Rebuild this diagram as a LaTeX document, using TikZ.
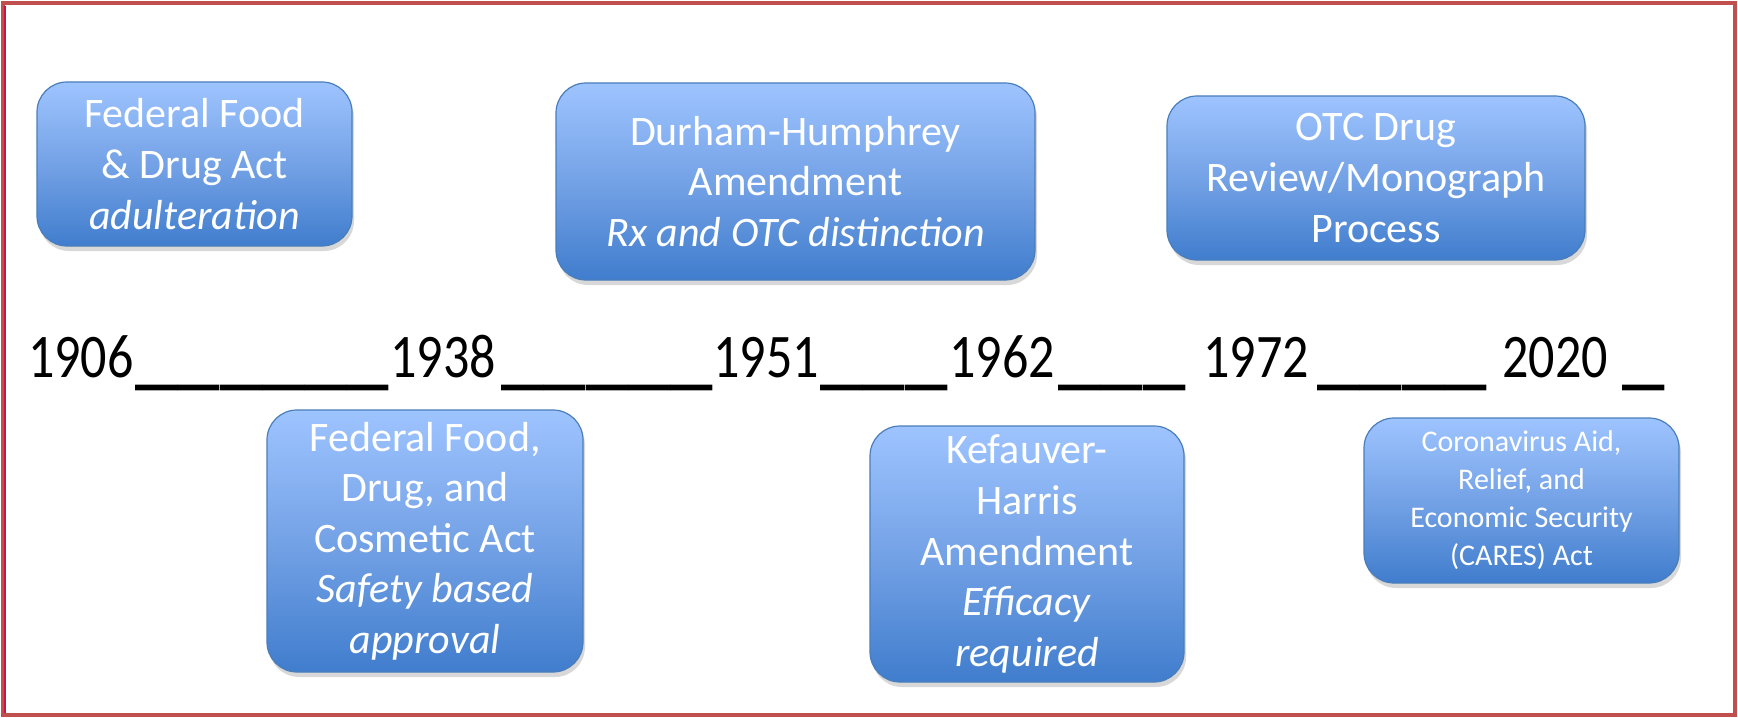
\documentclass[tikz,border=0pt]{standalone}
\usepackage{fontspec}
\setmainfont{Carlito}
\usetikzlibrary{shadows}
\definecolor{frame}{RGB}{192,80,77}
\definecolor{frameinner}{RGB}{200,20,70}
\definecolor{boxtop}{RGB}{158,196,255}
\definecolor{boxmid}{RGB}{116,162,230}
\definecolor{boxbot}{RGB}{64,125,205}
\definecolor{boxline}{RGB}{74,126,187}
\tikzset{
  eventbox/.style={draw=boxline, line width=0.6pt, rounded corners=15pt,
    top color=boxtop, bottom color=boxbot, middle color=boxmid,
    text=white, align=center, inner sep=2pt,
    drop shadow={opacity=0.3, shadow xshift=1pt, shadow yshift=-2.5pt},
    font=\fontsize{21}{25.3}\selectfont},
  smallbox/.style={eventbox, font=\fontsize{15}{19}\selectfont},
  yearlbl/.style={anchor=base west, inner sep=0pt, font=\fontsize{31}{37}\selectfont},
  dashrun/.style={anchor=base west, inner sep=0pt, font=\fontsize{31}{37}\selectfont}
}
\newcommand{\yr}[1]{\scalebox{0.84}[1]{#1}}
\newcommand{\us}[1]{\scalebox{1.37}[1.6]{#1}}
\begin{document}
\begin{tikzpicture}[x=0.5pt,y=-0.5pt]
\useasboundingbox (0,0) rectangle (1738,717);
\fill[white] (0,0) rectangle (1738,717);
\draw[frame, line width=2pt] (2.5,3.5) rectangle (1735,715);
\draw[frameinner, line width=0.6pt] (5,6) -- (5,713);

% event boxes
\node[eventbox, minimum width=157.5pt, minimum height=82pt] (ffda) at (194.5,164)
  {Federal Food\\ \& Drug Act\\ \textit{adulteration}};
\node[eventbox, minimum width=239.5pt, minimum height=98.5pt] (dh) at (795.5,181.5)
  {Durham-Humphrey\\ Amendment\\ \textit{Rx and OTC distinction}};
\node[eventbox, minimum width=209pt, minimum height=82pt] (otc) at (1376,178)
  {OTC Drug\\ Review/Monograph\\ Process};
\node[eventbox, minimum width=158pt, minimum height=131pt] (fdca) at (425,541)
  {Federal Food,\\ Drug, and\\ Cosmetic Act\\ \textit{Safety based}\\ \textit{approval}};
\node[eventbox, minimum width=157pt, minimum height=128pt] (kh) at (1027,554)
  {Kefauver-\\ Harris\\ Amendment\\ \textit{Efficacy}\\ \textit{required}};
\node[smallbox, minimum width=157.5pt, minimum height=82.5pt] (cares) at (1521.5,500.5)
  {Coronavirus Aid,\\ Relief, and\\ Economic Security\\ (CARES) Act};

% timeline
\node[yearlbl] (y1906) at (27.7,377) {\yr{1906}};
\node[dashrun] (r1) at (135,377) {\us{\_\_\_\_\_\_}};
\node[yearlbl] (y1938) at (390,377) {\yr{1938}};
\node[dashrun] (r2) at (501,377) {\us{\_\_\_\_\_}};
\node[yearlbl] (y1951) at (713,377) {\yr{1951}};
\node[dashrun] (r3) at (820,377) {\us{\_\_\_}};
\node[yearlbl] (y1962) at (949,377) {\yr{1962}};
\node[dashrun] (r4) at (1058,377) {\us{\_\_\_}};
\node[yearlbl] (y1972) at (1203,377) {\yr{1972}};
\node[dashrun] (r5) at (1317,377) {\us{\_\_\_\_}};
\node[yearlbl] (y2020) at (1502,377) {\yr{2020}};
\node[dashrun] (r6) at (1622,377) {\us{\_}};
\end{tikzpicture}
\end{document}
